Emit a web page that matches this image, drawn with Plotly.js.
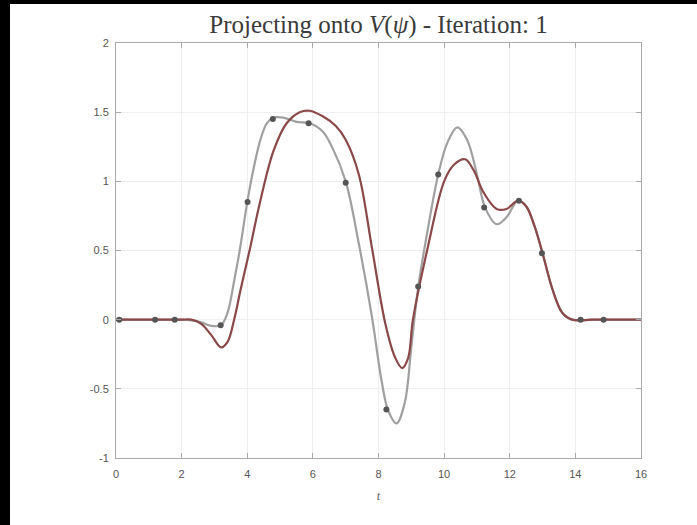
<!DOCTYPE html>
<html>
<head>
<meta charset="utf-8">
<script src="https://cdn.plot.ly/plotly-3.0.1.min.js"></script>
<style>
  html, body { margin: 0; padding: 0; background: #fff; width: 697px; height: 525px; overflow: hidden; }
  #stripL { position: absolute; left: 0; top: 0; width: 10px; height: 525px; background: #000; }
  #stripT { position: absolute; left: 0; top: 0; width: 697px; height: 4px; background: #000; }
  #chart { position: absolute; left: 10px; top: 4px; width: 687px; height: 521px; background: #fff; }
</style>
</head>
<body>
<div id="chart"></div>
<div id="stripL"></div>
<div id="stripT"></div>
<script>
// Original function (gray)
const tOrig = [0, 1, 2, 2.3, 2.6, 2.9, 3.2, 3.4, 3.6, 3.77, 4.0, 4.2, 4.4, 4.6, 4.8, 5.1, 5.5, 5.9, 6.3, 6.6, 7.0, 7.4, 7.8, 8.1, 8.3, 8.55, 8.8, 9.0, 9.2, 9.5, 9.82, 10.1, 10.4, 10.7, 11.0, 11.25, 11.6, 11.9, 12.25, 12.5, 12.75, 13.0, 13.3, 13.6, 13.9, 14.5, 15, 16];
const fOrig = [0, 0, 0, -0.005, -0.02, -0.045, -0.04, 0.05, 0.28, 0.5, 0.85, 1.1, 1.3, 1.42, 1.46, 1.46, 1.43, 1.42, 1.36, 1.24, 1.0, 0.55, 0.02, -0.45, -0.66, -0.75, -0.6, -0.2, 0.22, 0.65, 1.05, 1.28, 1.39, 1.3, 1.05, 0.81, 0.69, 0.74, 0.86, 0.82, 0.68, 0.48, 0.22, 0.05, 0.0, 0, 0, 0];

// Projection (red)
const tProj = [0, 1, 2, 2.3, 2.6, 2.9, 3.2, 3.4, 3.6, 3.8, 4.07, 4.38, 4.8, 5.2, 5.6, 5.9, 6.3, 6.7, 7.0, 7.4, 7.8, 8.2, 8.5, 8.72, 8.9, 9.05, 9.5, 10.0, 10.3, 10.64, 10.9, 11.2, 11.6, 11.9, 12.25, 12.5, 12.75, 13.0, 13.3, 13.6, 13.9, 14.5, 15, 16];
const fProj = [0, 0, 0, 0, -0.03, -0.11, -0.2, -0.16, 0.0, 0.22, 0.5, 0.84, 1.22, 1.42, 1.5, 1.51, 1.47, 1.4, 1.3, 1.05, 0.52, -0.02, -0.27, -0.35, -0.28, 0.0, 0.52, 1.0, 1.12, 1.16, 1.08, 0.92, 0.8, 0.8, 0.86, 0.82, 0.68, 0.48, 0.22, 0.05, 0.0, 0, 0, 0];

// Sample points
const tSamp = [0.1, 1.19, 1.79, 3.19, 4.01, 4.78, 5.87, 7.0, 8.24, 9.21, 9.82, 11.22, 12.28, 12.98, 14.16, 14.86];
const fSamp = [0, 0, 0, -0.04, 0.85, 1.45, 1.42, 0.99, -0.65, 0.24, 1.05, 0.81, 0.86, 0.48, 0, 0];

const xTicks = [0, 2, 4, 6, 8, 10, 12, 14, 16];
const yTicks = [-1, -0.5, 0, 0.5, 1, 1.5, 2];
const yTickText = ['-1', '-0.5', '0', '0.5', '1', '1.5', '2'];

const traces = [
  { x: tOrig, y: fOrig, mode: 'lines', line: { color: '#a0a0a0', width: 2.2, shape: 'spline', smoothing: 1 }, hoverinfo: 'skip' },
  { x: tProj, y: fProj, mode: 'lines', line: { color: '#8b4848', width: 2.2, shape: 'spline', smoothing: 1 }, hoverinfo: 'skip' },
  { x: tSamp, y: fSamp, mode: 'markers', marker: { color: '#555', size: 6 }, hoverinfo: 'skip' }
];

const axisCommon = {
  showline: true, linecolor: '#aaa', linewidth: 1, mirror: 'ticks',
  ticks: 'inside', ticklen: 5, tickcolor: '#aaa',
  showgrid: true, gridcolor: '#efefef', gridwidth: 1,
  zeroline: false,
  tickfont: { family: 'Liberation Sans, Arial, sans-serif', size: 11, color: '#555' }
};

const layout = {
  width: 687, height: 521,
  margin: { l: 106, r: 56, t: 39, b: 67 },
  paper_bgcolor: '#fff', plot_bgcolor: '#fff',
  showlegend: false,
  title: {
    text: 'Projecting onto <i>V</i>(<i>ψ</i>) - Iteration: 1',
    font: { family: 'Liberation Serif, DejaVu Serif, serif', size: 25, color: '#3a3a3a' },
    x: 0.5, xref: 'paper', xanchor: 'center',
    y: 0.962, yref: 'container', yanchor: 'middle'
  },
  xaxis: Object.assign({}, axisCommon, {
    range: [0, 16], tickvals: xTicks, ticklabelstandoff: 6,
    title: { text: '<i>t</i>', font: { family: 'Liberation Serif, serif', size: 12, color: '#555' }, standoff: 12 }
  }),
  yaxis: Object.assign({}, axisCommon, {
    range: [-1, 2], tickvals: yTicks, ticktext: yTickText, ticklabelstandoff: 4
  })
};

Plotly.newPlot('chart', traces, layout, { staticPlot: true, displayModeBar: false });
</script>
</body>
</html>
